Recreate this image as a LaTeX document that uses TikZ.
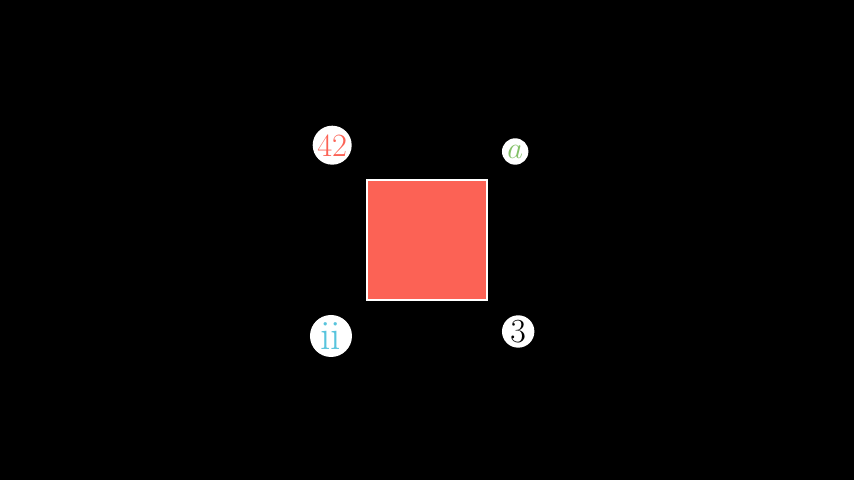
\documentclass[tikz,border=0pt]{standalone}
\begin{document}
\begin{tikzpicture}
\definecolor{sqred}{HTML}{FC6255}
\definecolor{lblgreen}{HTML}{83C167}
\definecolor{lblblue}{HTML}{58C4DD}
\tikzset{dot/.style = {circle, fill = white, inner sep = 0pt}}
\fill[black] (-7.1167,-4) rectangle (7.1167,4);
\node[fill = sqred, draw = white, line width = 0.95pt, minimum size = 2cm, inner sep = 0pt] (sq) at (0,0) {};
\node[dot, minimum size = 0.65cm, text = sqred] (lblA) at (-1.58,1.58) {\fontsize{15.4}{18}\selectfont 42};
\node[dot, minimum size = 0.44cm, text = lblgreen] (lblB) at (1.47,1.475) {\fontsize{14.6}{17}\selectfont $a$};
\node[dot, minimum size = 0.70cm, text = lblblue] (lblC) at (-1.6,-1.6) {\fontsize{19.8}{23}\selectfont ii};
\node[dot, minimum size = 0.54cm, text = black] (lblD) at (1.52,-1.525) {\fontsize{16}{19}\selectfont 3};
\end{tikzpicture}
\end{document}
